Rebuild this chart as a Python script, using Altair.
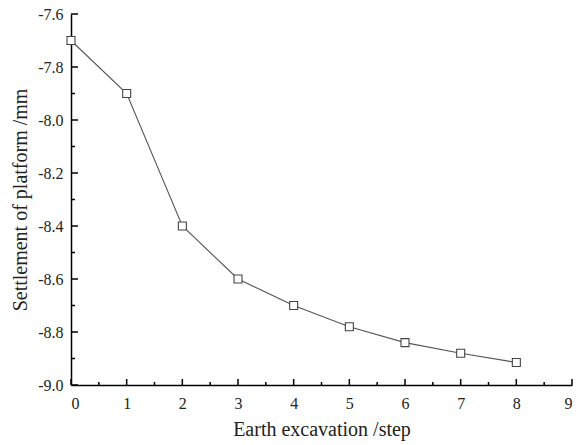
import altair as alt
import pandas as pd

steps = [0, 1, 2, 3, 4, 5, 6, 7, 8]
settlement = [-7.70, -7.90, -8.40, -8.60, -8.70, -8.78, -8.84, -8.88, -8.915]

x_major = [0, 1, 2, 3, 4, 5, 6, 7, 8, 9]
x_minor = [0.5, 1.5, 2.5, 3.5, 4.5, 5.5, 6.5, 7.5, 8.5]
y_major = [-9.0, -8.8, -8.6, -8.4, -8.2, -8.0, -7.8, -7.6]
y_minor = [-8.9, -8.7, -8.5, -8.3, -8.1, -7.9, -7.7]

W, H = 501, 371
FONT = "Liberation Serif"
XT = "Earth excavation /step"
YT = "Settlement of platform /mm"

df = pd.DataFrame({"step": steps, "settle": settlement})

xscale = alt.Scale(domain=[0, 9], nice=False, zero=False)
yscale = alt.Scale(domain=[-9.0, -7.6], nice=False, zero=False)
xaxis = alt.Axis(values=x_major, labelExpr="format(datum.value, 'd')")
yaxis = alt.Axis(values=y_major, labelExpr="replace(format(datum.value, '.1f'), '\u2212', '-')")

X = lambda f: alt.X(f, scale=xscale, title=XT, axis=xaxis)
Y = lambda f: alt.Y(f, scale=yscale, title=YT, axis=yaxis)

base = alt.Chart(df)
line = base.mark_line(color="#555555", strokeWidth=1.1).encode(x=X("step:Q"), y=Y("settle:Q"))
pts = base.mark_point(shape="square", size=64, filled=True, fill="white",
                      stroke="#444444", strokeWidth=1.1, opacity=1).encode(x=X("step:Q"), y=Y("settle:Q"))

def xticks(vals, length):
    return alt.Chart(pd.DataFrame({"v": vals})).mark_rule(color="black", strokeWidth=1.5).encode(
        x=X("v:Q"), y=alt.value(H), y2=alt.value(H - length))

def yticks(vals, length):
    return alt.Chart(pd.DataFrame({"v": vals})).mark_rule(color="black", strokeWidth=1.5).encode(
        y=Y("v:Q"), x=alt.value(0), x2=alt.value(length))

chart = alt.layer(
    xticks(x_major, 6), xticks(x_minor, 3),
    yticks(y_major, 7), yticks(y_minor, 4),
    line, pts,
).properties(
    width=W, height=H,
    autosize=alt.AutoSizeParams(type="none"),
    padding={"left": 71, "top": 14, "right": 16, "bottom": 60},
).configure_view(stroke=None).configure_axis(
    grid=False, ticks=False, domainColor="black", domainWidth=1.5,
    labelFont=FONT, labelFontSize=16, labelColor="#222222",
    titleFont=FONT, titleFontSize=20, titleFontWeight="normal", titleColor="#222222",
).configure_axisX(labelPadding=10, titlePadding=8).configure_axisY(labelPadding=8, titlePadding=7)

chart.save("out.html", embed_options={"renderer": "svg", "actions": False})
